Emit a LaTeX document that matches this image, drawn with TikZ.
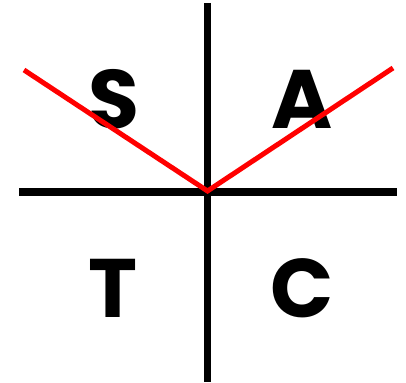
\documentclass[tikz,border=0pt]{standalone}
\usepackage{fontspec}
\setmainfont{Poppins}
\usepackage{tikz}
\usetikzlibrary{positioning,calc}
\usepackage{xcolor}
\definecolor{axisblack}{HTML}{000000}
\definecolor{rayred}{HTML}{FF0000}

\begin{document}
\begin{tikzpicture}[
  x=1pt, y=1pt,
  axisline/.style={draw=axisblack, line width=7.5pt},
  rayline/.style={draw=rayred, line width=5pt},
  quadletter/.style={font=\fontsize{83}{83}\selectfont\bfseries, inner sep=0pt, anchor=center}
]

  % Bounding box (same as reference)
  \useasboundingbox (0,0) rectangle (406,382);

  % Axes
  \coordinate (origin) at (207.5,190);
  \coordinate (ytop) at (207.5,379);
  \coordinate (ybottom) at (207.5,0);
  \coordinate (xleft) at (19,190);
  \coordinate (xright) at (397,190);
  \draw[axisline] (ytop) -- (ybottom);
  \draw[axisline] (xleft) -- (xright);

  % Quadrant letters
  \node[quadletter] (sletter) at (114.5,283) {S};
  \node[quadletter] (aletter) at (302.5,283) {A};
  \node[quadletter] (tletter) at (113.5,94) {T};
  \node[quadletter] (cletter) at (302.5,94) {C};

  % Red rays
  \coordinate (rayleft) at (24,312);
  \coordinate (rayright) at (393,314);
  \coordinate (vertex) at (207.5,191);
  \draw[rayline] (rayleft) -- (vertex) -- (rayright);

\end{tikzpicture}
\end{document}
